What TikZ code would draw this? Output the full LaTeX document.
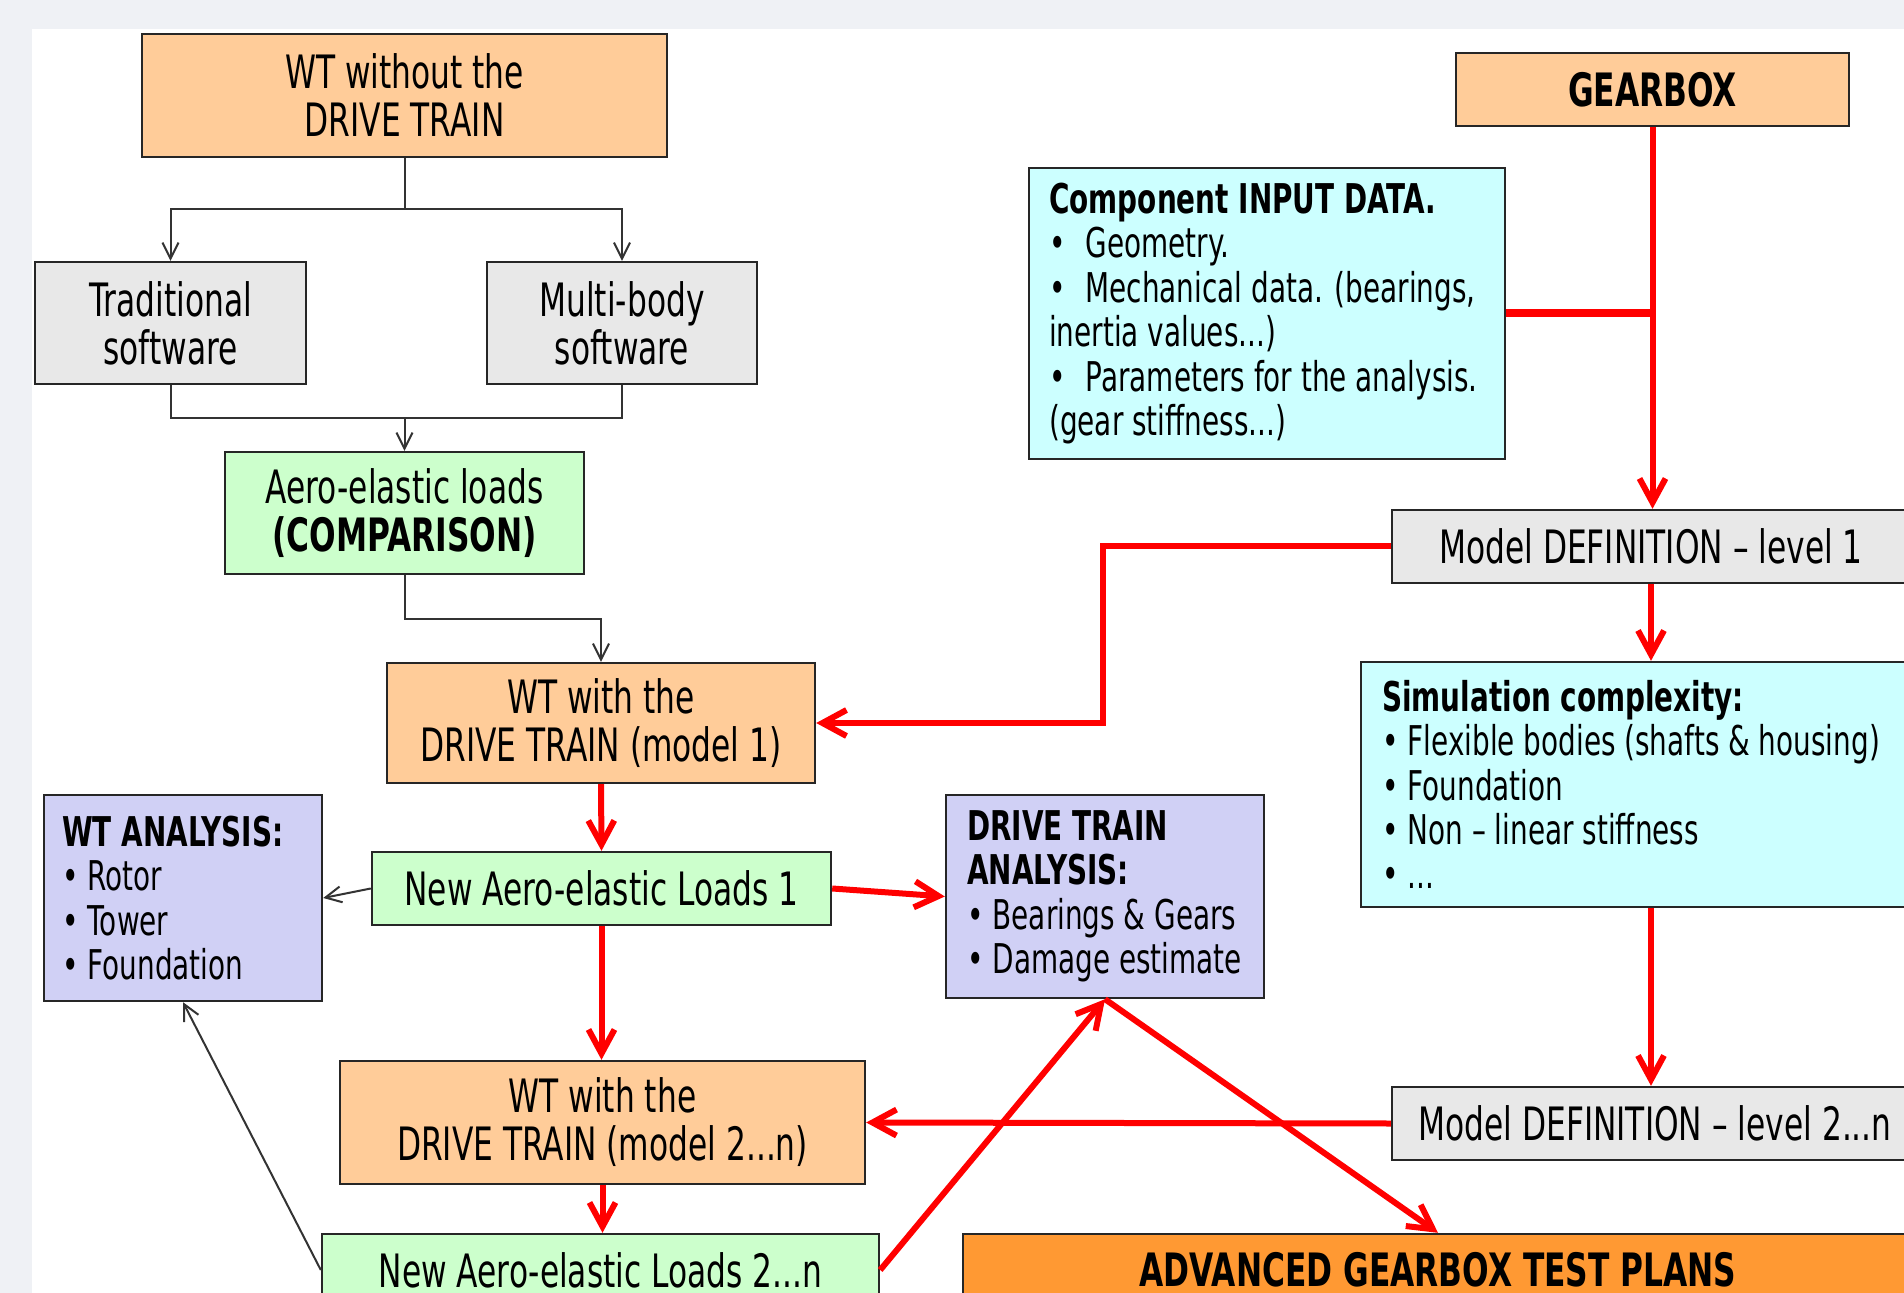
\documentclass[tikz,border=0pt]{standalone}
\usepackage{fontspec}
\setmainfont{DejaVu Sans}[FakeStretch=0.68]
\usetikzlibrary{arrows.meta,calc}
\definecolor{bgc}{RGB}{239,241,245}
\definecolor{orng}{RGB}{255,204,153}
\definecolor{gry}{RGB}{232,232,232}
\definecolor{grn}{RGB}{204,255,204}
\definecolor{cyn}{RGB}{204,255,255}
\definecolor{lav}{RGB}{208,208,245}
\definecolor{dorng}{RGB}{255,153,51}
\newcommand\fbig{\fontsize{23}{24}\selectfont}
\newcommand\fsmall{\fontsize{20.5}{22.2}\selectfont}
\newcommand\blt{•\hspace{4.5pt}}
\newcommand\bltw{•\hspace{10pt}}
\begin{document}
\begin{tikzpicture}[x=0.5pt,y=-0.5pt,
  box/.style={draw=black!85, line width=1.2pt, inner sep=0pt, font=\fbig, align=center},
  obox/.style={box, fill=orng},
  gbox/.style={box, fill=gry},
  grbox/.style={box, fill=grn},
  cbox/.style={box, fill=cyn},
  lvbox/.style={box, fill=lav},
  abox/.style={box, fill=dorng},
  ltxt/.style={font=\fsmall, align=left, inner sep=0pt, anchor=west},
  kline/.style={draw=black!80, line width=1pt},
  karr/.style={kline, -{Straight Barb[length=8pt,width=8pt]}},
  rline/.style={draw=red, line width=3pt},
  rarr/.style={rline, -{Straight Barb[length=12pt,width=13pt]}}]
\useasboundingbox (0,0) rectangle (1904,1293);
\clip (0,0) rectangle (1904,1293);
\fill[bgc] (0,0) rectangle (1904,1293);
\fill[white] (32,29) rectangle (1904,1293);

% left column
\node[obox, minimum width=262.5pt, minimum height=61.5pt] (A) at (404.5,95.5) {WT without the\\DRIVE TRAIN};
\node[gbox, minimum width=135.5pt, minimum height=61pt] (Trad) at (170.5,323) {Traditional\\software};
\node[gbox, minimum width=135pt, minimum height=61pt] (Multi) at (622,323) {Multi-body\\software};
\node[grbox, minimum width=179.5pt, minimum height=61pt] (Aero) at (404.5,513) {Aero-elastic loads\\\textbf{(COMPARISON)}};
\node[obox, minimum width=214pt, minimum height=60pt] (WTm1) at (601,723) {WT with the\\DRIVE TRAIN (model 1)};
\node[grbox, minimum width=229.5pt, minimum height=36.5pt] (NA1) at (601.5,888.5) {New Aero-elastic Loads 1};
\node[lvbox, minimum width=139pt, minimum height=103pt] (WTA) at (183,898) {};
\node[ltxt] (WTAt) at ($(WTA.west)+(19,0)$) {\textbf{WT ANALYSIS:}\\\blt Rotor\\\blt Tower\\\blt Foundation};
\node[lvbox, minimum width=159pt, minimum height=101.5pt] (DTA) at (1105,896.5) {};
\node[ltxt] (DTAt) at ($(DTA.west)+(22,0)$) {\textbf{DRIVE TRAIN}\\\textbf{ANALYSIS:}\\\blt Bearings \& Gears\\\blt Damage estimate};
\node[obox, minimum width=262.5pt, minimum height=61.5pt] (WTm2) at (602.5,1122.5) {WT with the\\DRIVE TRAIN (model 2...n)};
\node[grbox, minimum width=278.5pt, minimum height=36pt] (NA2) at (600.5,1270) {New Aero-elastic Loads 2...n};
\node[abox, minimum width=475pt, minimum height=36pt] (ADV) at (1438,1270) {\textbf{ADVANCED GEARBOX TEST PLANS}};

% right column
\node[obox, minimum width=196.5pt, minimum height=36.5pt] (GEAR) at (1652.5,89.5) {\textbf{GEARBOX}};
\node[cbox, minimum width=238pt, minimum height=145.5pt] (CID) at (1267,313.5) {};
\node[ltxt] (CIDt) at ($(CID.west)+(21,0)$) {\textbf{Component INPUT DATA.}\\\bltw Geometry.\\\bltw Mechanical data. (bearings,\\inertia values...)\\\bltw Parameters for the analysis.\\(gear stiffness...)};
\node[gbox, minimum width=259pt, minimum height=36.5pt] (MD1) at (1651,546.5) {Model DEFINITION – level 1};
\node[cbox, minimum width=294.5pt, minimum height=122.5pt] (SIM) at (1655.5,784.5) {};
\node[ltxt] (SIMt) at ($(SIM.west)+(22,0)$) {\textbf{Simulation complexity:}\\\blt Flexible bodies (shafts \& housing)\\\blt Foundation\\\blt Non – linear stiffness\\\blt ...};
\node[gbox, minimum width=263pt, minimum height=36.5pt] (MD2) at (1655,1123.5) {Model DEFINITION – level 2...n};

% black connectors
\coordinate (j1) at (404.5,209);
\coordinate (j2) at (404.5,418);
\coordinate (j3) at (404.5,619);
\draw[kline] (A.south) -- (j1);
\draw[karr] (j1) -| (Trad.north);
\draw[karr] (j1) -| (Multi.north);
\draw[kline] (Trad.south) |- (j2);
\draw[kline] (Multi.south) |- (j2);
\draw[karr] (j2) -- (Aero.north);
\draw[karr] (Aero.south) -- (j3) -| (WTm1.north);
\draw[karr] (NA1.west) -- (WTA.east);
\draw[karr] (NA2.west) -- (WTA.south);

% red connectors
\coordinate (k1) at (1103,546.5);
\draw[rarr] (GEAR.south) -- (GEAR.south |- MD1.north);
\draw[rline, line width=4pt] (CID.east) -- (CID.east -| GEAR.south);
\draw[rarr] (MD1.west) -- (k1) |- (WTm1.east);
\draw[rarr] (MD1.south) -- (MD1.south |- SIM.north);
\draw[rarr] (MD1.south |- SIM.south) -- (MD1.south |- MD2.north);
\draw[rarr] (MD2.west) -- (WTm2.east);
\draw[rarr] (WTm1.south) -- (NA1.north);
\draw[rarr] (NA1.south) -- (NA1.south |- WTm2.north);
\draw[rarr] (WTm2.south) -- (WTm2.south |- NA2.north);
\draw[rarr] (NA1.east) -- (DTA.west);
\draw[rarr] (NA2.east) -- (DTA.south);
\draw[rarr] (DTA.south) -- (ADV.north);
\end{tikzpicture}
\end{document}
